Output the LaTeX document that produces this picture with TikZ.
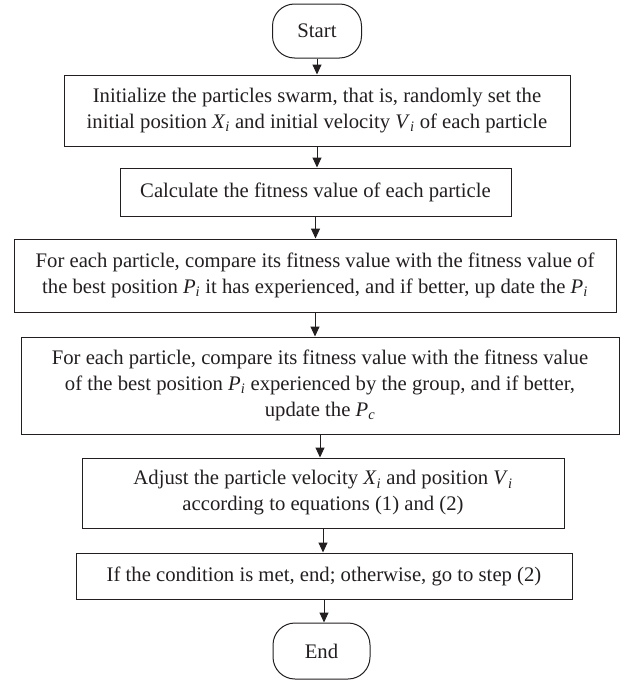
\documentclass[tikz,border=0pt]{standalone}
\usepackage{fontspec}
\usepackage{xcolor}
\usepackage{tikz}
\usetikzlibrary{arrows.meta}

\setmainfont{Liberation Serif}
\definecolor{ink}{HTML}{231F20}
% italic symbol with italic index
\newcommand{\sym}[2]{\textit{#1}\textsubscript{\textit{#2}}}

\begin{document}
\begin{tikzpicture}[x=1pt,y=-1pt,
	every node/.style={font=\fontsize{20.7}{26}\selectfont,text=ink,align=center,inner sep=0pt},
	box/.style={draw=ink,line width=1pt,rectangle},
	term/.style={draw=ink,line width=1pt,rectangle,rounded corners=22pt},
	flow/.style={draw=ink,line width=1pt,-{Triangle[length=10pt,width=9pt]}}]
	\useasboundingbox (0,0) rectangle (622,680);
	
	\node[term,minimum width=89pt,minimum height=54pt] (start) at (317,31) {Start};
	\node[box,minimum width=506pt,minimum height=71pt] (init) at (317,110.5)
		{Initialize the particles swarm, that is, randomly set the\\ initial position \sym{X}{i} and initial velocity \sym{V}{i} of each particle};
	\node[box,minimum width=391pt,minimum height=48pt] (fit) at (315.5,192)
		{Calculate the fitness value of each particle};
	\node[box,minimum width=602pt,minimum height=73pt] (pbest) at (315,275.5)
		{For each particle, compare its fitness value with the fitness value of\\ the best position \sym{P}{i} it has experienced, and if better, up date the \sym{P}{i}};
	\node[box,minimum width=598pt,minimum height=97pt] (gbest) at (320,385.5)
		{For each particle, compare its fitness value with the fitness value\\ of the best position \sym{P}{i} experienced by the group, and if better,\\ update the \sym{P}{c}};
	\node[box,minimum width=482pt,minimum height=70pt] (adjust) at (323,493)
		{Adjust the particle velocity \sym{X}{i} and position \sym{V}{i}\\ according to equations (1) and (2)};
	\node[box,minimum width=496pt,minimum height=46pt] (check) at (324,576)
		{If the condition is met, end; otherwise, go to step (2)};
	\node[term,minimum width=97pt,minimum height=56pt] (end) at (321.5,651) {End};
	
	% arrows between the steps
	\draw[flow] (start.south) -- (start.south |- init.north);
	\draw[flow] (init.south) -- (init.south |- fit.north);
	\draw[flow] (fit.south) -- (fit.south |- pbest.north);
	\draw[flow] (pbest.south) -- (pbest.south |- gbest.north);
	\draw[flow] (gbest.south) -- (gbest.south |- adjust.north);
	\draw[flow] (adjust.south) -- (adjust.south |- check.north);
	\draw[flow] (check.south) -- (check.south |- end.north);
\end{tikzpicture}
\end{document}
